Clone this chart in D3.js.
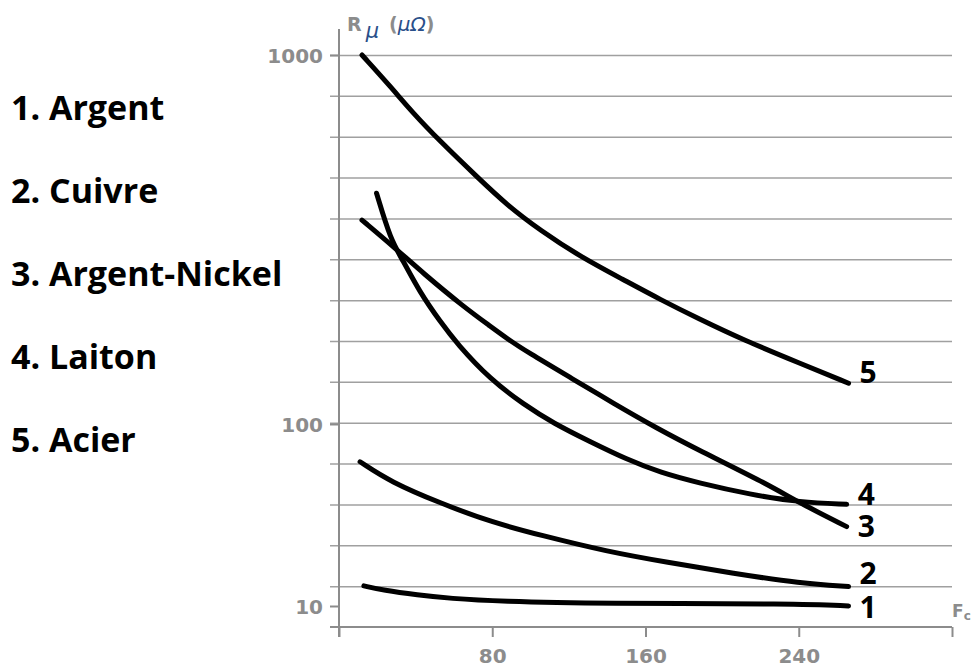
<!DOCTYPE html>
<html>
<head>
<meta charset="utf-8">
<script src="https://cdn.jsdelivr.net/npm/d3@7"></script>
<style>
  html, body { margin: 0; padding: 0; background: #fff; }
  svg { display: block; }
  .grid line { stroke: #a0a0a0; stroke-width: 1.5; }
  .grid path { display: none; }
  .axis path, .axis line { stroke: #8c8c8c; stroke-width: 2; }
  .axis text { font-family: "DejaVu Sans", sans-serif; font-weight: bold; font-size: 20px; fill: #8c8c8c; }
  .legend text { font-family: "Open Sans", sans-serif; font-weight: 700; font-size: 34px; fill: #000; }
  .endlab { font-family: "Open Sans", sans-serif; font-weight: 700; font-size: 30px; fill: #000; }
  .curve { fill: none; stroke: #000; stroke-width: 5; stroke-linecap: round; stroke-linejoin: round; }
</style>
</head>
<body>
<svg width="975" height="670"></svg>
<script>
// series: [Fc, R (µΩ)]
const argent = [[13, 12.9], [23, 12.2], [41, 11.5], [58, 11.0], [84, 10.6], [136, 10.3], [240, 10.3], [266, 10.0]]
const cuivre = [[11, 62], [27, 48], [53, 36.7], [79, 29], [105, 24.5], [140, 19.9], [171, 17.4], [206, 15.1], [241, 13.3], [266, 12.8]]
const argentNickel = [[12, 357], [28.6, 302], [44, 256], [65, 208], [79, 184], [88, 170], [98, 157], [122.5, 132], [143, 114], [166, 94.7], [187.6, 72], [223, 47.2], [240.7, 36.7], [265, 27.3]]
const laiton = [[19.6, 422], [27, 315], [33, 280], [42.5, 226], [53, 189], [61.6, 165], [79, 132], [96.4, 113], [112, 100.4], [131, 80], [150, 64], [168, 54], [187.6, 47.5], [214.6, 41], [240.7, 37.1], [265, 36.2]]
const acier = [[12, 1000], [27, 820], [38, 702], [53, 582], [72, 468], [87.7, 392], [105, 335], [126, 284], [148.5, 246], [168, 217], [187.6, 193], [211, 169], [240.7, 146], [266, 129]]

const series = [argent, cuivre, argentNickel, laiton, acier]
const names = ["1. Argent", "2. Cuivre", "3. Argent-Nickel", "4. Laiton", "5. Acier"]
const endLabels = ["1", "2", "3", "4", "5"]
const endLabelDy = [12, -2, 10, 1, 0]

const xTicks = [0, 80, 160, 240, 320]
const xTickLabels = ["", "80", "160", "240", ""]
const yTicks = [10, 100, 1000]

const svg = d3.select("svg")
const margin = { top: 55, right: 23, bottom: 43, left: 339 }
const width = +svg.attr("width") - margin.left - margin.right
const height = +svg.attr("height") - margin.top - margin.bottom
const g = svg.append("g").attr("transform", "translate(" + margin.left + "," + margin.top + ")")

const x = d3.scaleLinear().domain([0, 320]).range([0, width])
// the drawing uses an uneven log axis: each decade has its own length
const y = d3.scaleLog().domain([10, 100, 1000]).range([551, 369, 0])

// evenly spaced horizontal rules from 1000 down to the bottom axis
const rows = d3.range(15).map(k => y(1000) + k * (height - y(1000)) / 14)
const gridValues = rows.slice(0, 14).map(r => y.invert(r))

g.append("g")
    .attr("class", "grid")
    .call(d3.axisLeft(y).tickValues(gridValues).tickSize(-width).tickFormat(""))
  .selectAll("line")
    .attr("x1", -9)

// y axis
g.append("g")
    .attr("class", "axis")
    .call(d3.axisLeft(y).tickValues(yTicks).tickSize(9).tickSizeOuter(0).tickPadding(7).tickFormat(d3.format("d")))
  .call(a => a.select(".domain").remove())
  .selectAll("text").attr("dy", "0.36em")

g.append("line")
    .attr("x1", 0).attr("x2", 0)
    .attr("y1", -26).attr("y2", height + 10)
    .attr("stroke", "#8c8c8c").attr("stroke-width", 2)

// x axis
const xa = g.append("g")
    .attr("class", "axis")
    .attr("transform", "translate(0," + height + ")")
    .call(d3.axisBottom(x).tickValues(xTicks).tickSize(10).tickSizeOuter(0).tickPadding(12)
      .tickFormat((d, i) => xTickLabels[i]))
xa.select(".domain").attr("d", "M-9,0H" + width)

// y title  R_µ (µΩ)
const title = svg.append("text")
    .attr("x", 347).attr("y", 31)
    .attr("font-family", "DejaVu Sans, sans-serif")
    .attr("font-size", 19).attr("font-weight", "bold").attr("fill", "#8c8c8c")
title.append("tspan").text("R")
title.append("tspan").attr("dx", 4).attr("dy", 7).attr("font-style", "italic").attr("fill", "#2a4f8a")
    .attr("font-weight", "normal").attr("font-size", 21).text("μ")
title.append("tspan").attr("dx", 10).attr("dy", -7).text("(")
title.append("tspan").attr("font-style", "italic").attr("fill", "#2a4f8a").attr("font-weight", "normal")
    .attr("font-size", 20).text("μΩ")
title.append("tspan").text(")")

// x title  F_c
const xt = svg.append("text")
    .attr("x", 952).attr("y", 617)
    .attr("font-family", "DejaVu Sans, sans-serif")
    .attr("font-size", 17).attr("font-weight", "bold").attr("fill", "#8c8c8c")
xt.append("tspan").text("F")
xt.append("tspan").attr("dy", 3).attr("font-size", 12).text("c")

// curves
const line = d3.line()
    .x(d => x(d[0]))
    .y(d => y(d[1]))
    .curve(d3.curveBasis)

g.selectAll(".curve")
  .data(series)
  .enter().append("path")
    .attr("class", "curve")
    .attr("d", line)

g.selectAll(".endlab")
  .data(series)
  .enter().append("text")
    .attr("class", "endlab")
    .attr("x", d => x(d[d.length - 1][0]) + 11)
    .attr("y", (d, i) => y(d[d.length - 1][1]) + endLabelDy[i])
    .text((d, i) => endLabels[i])

// legend
svg.append("g")
    .attr("class", "legend")
  .selectAll("text")
  .data(names)
  .enter().append("text")
    .attr("x", 11)
    .attr("y", (d, i) => 120 + i * 83)
    .text(d => d)
</script>
</body>
</html>
